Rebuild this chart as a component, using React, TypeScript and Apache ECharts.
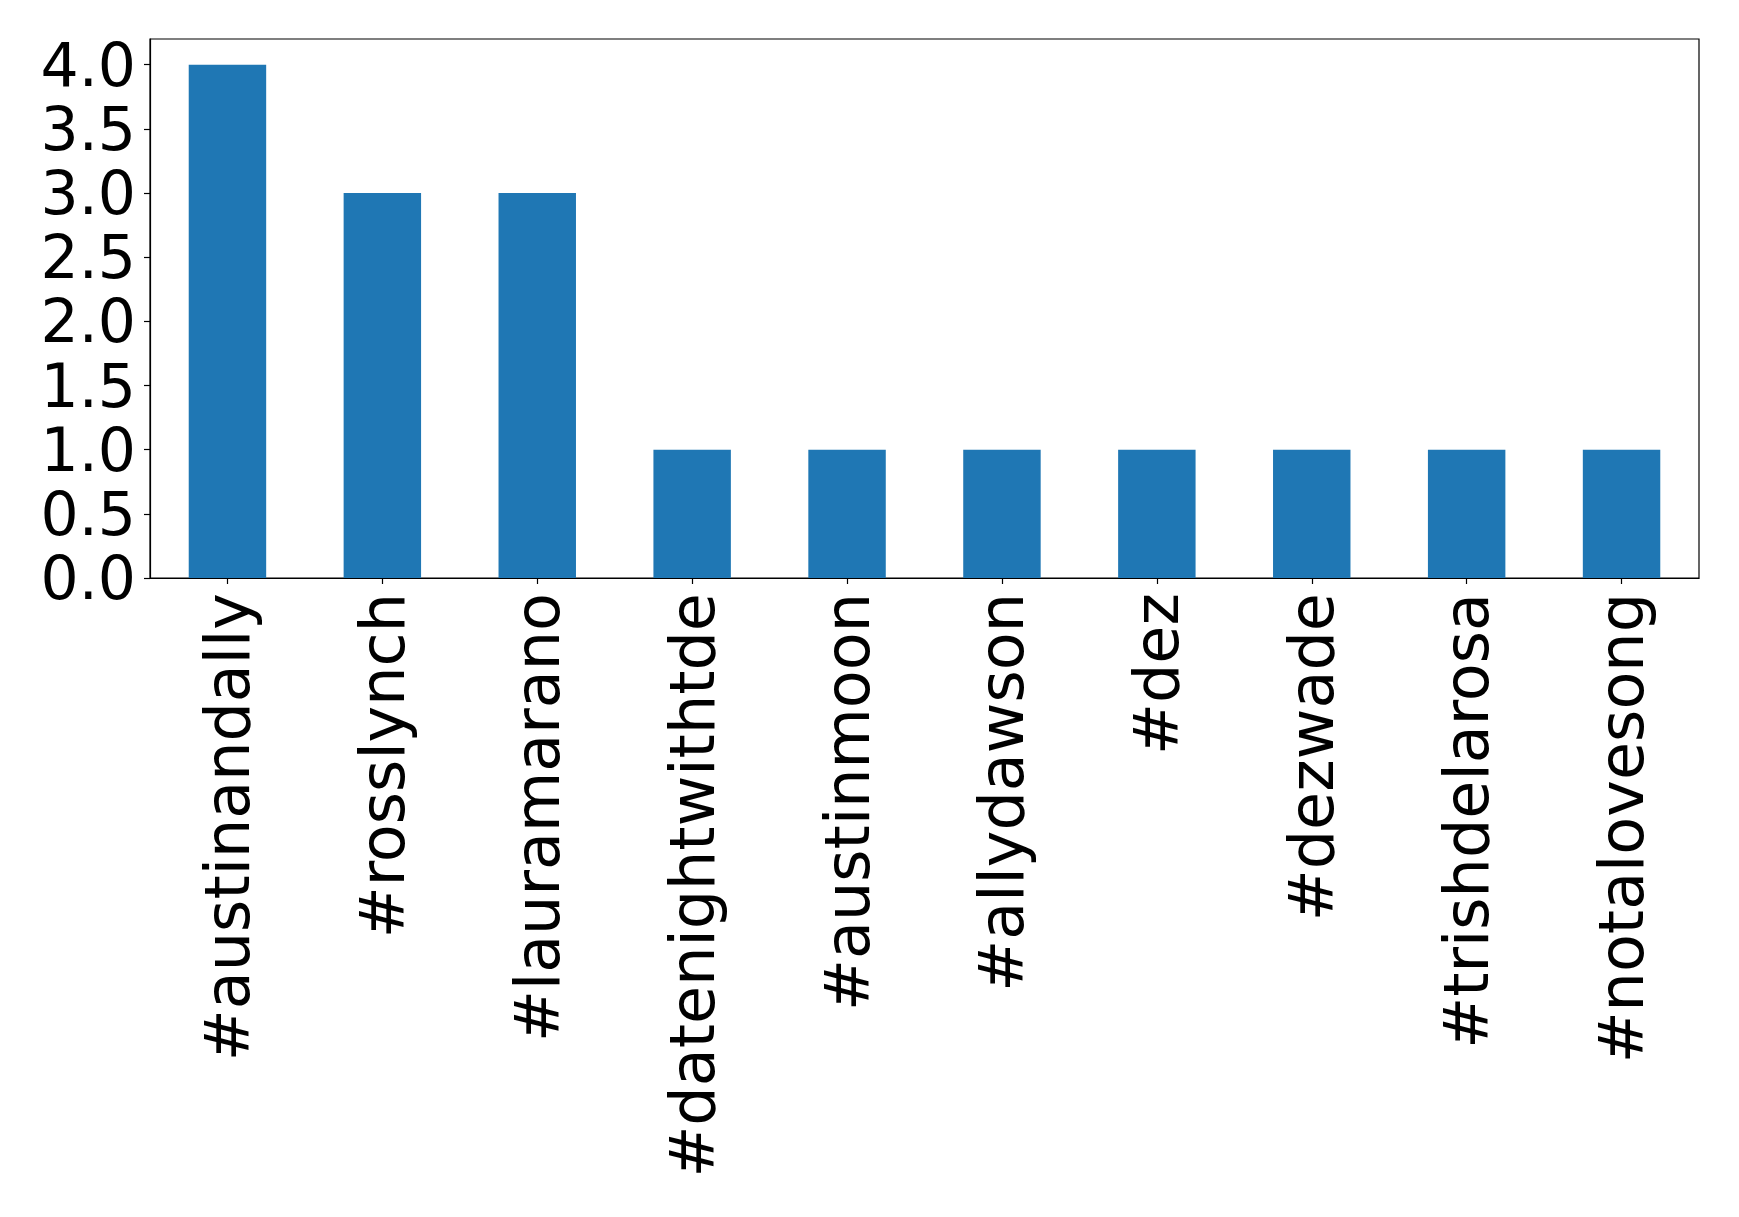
import React, { useEffect, useRef } from "react";
import * as echarts from "echarts";

const categories = [
  "#austinandally",
  "#rosslynch",
  "#lauramarano",
  "#datenightwithtde",
  "#austinmoon",
  "#allydawson",
  "#dez",
  "#dezwade",
  "#trishdelarosa",
  "#notalovesong",
];
const counts = [4, 3, 3, 1, 1, 1, 1, 1, 1, 1];
const yTicks = [0, 0.5, 1, 1.5, 2, 2.5, 3, 3.5, 4];

export default function App() {
  const ref = useRef<HTMLDivElement>(null);
  useEffect(() => {
    document.body.style.margin = "0";
    const chart = echarts.init(ref.current!, null, { renderer: "svg" });
    const font = "DejaVu Sans";
    chart.setOption({
      animation: false,
      backgroundColor: "#ffffff",
      grid: {
        left: 150,
        right: 40,
        top: 39,
        bottom: 639,
        show: true,
        borderColor: "#000000",
        borderWidth: 1.2,
        backgroundColor: "transparent",
      },
      xAxis: {
        type: "category",
        data: categories,
        boundaryGap: true,
        axisLine: { show: true, lineStyle: { color: "#000", width: 1.2 } },
        axisTick: { show: true, alignWithLabel: true, length: 6, lineStyle: { color: "#000", width: 1.2 } },
        axisLabel: {
          rotate: 90,
          interval: 0,
          margin: 15,
          fontSize: 62,
          fontFamily: font,
          color: "#000",
        },
        splitLine: { show: false },
      },
      yAxis: {
        type: "value",
        min: 0,
        max: 4.2,
        axisLine: { show: true, lineStyle: { color: "#000", width: 1.2 } },
        axisTick: { show: true, length: 6, customValues: yTicks, lineStyle: { color: "#000", width: 1.2 } },
        axisLabel: {
          customValues: yTicks,
          margin: 14,
          fontSize: 60,
          lineHeight: 56,
          fontFamily: font,
          color: "#000",
          formatter: (v: number) => v.toFixed(1),
        },
        splitLine: { show: false },
      },
      series: [
        {
          type: "bar",
          data: counts,
          barWidth: "50%",
          itemStyle: { color: "#1f77b4" },
        },
      ],
    });
    return () => chart.dispose();
  }, []);
  return <div ref={ref} style={{ width: 1739, height: 1217 }} />;
}
